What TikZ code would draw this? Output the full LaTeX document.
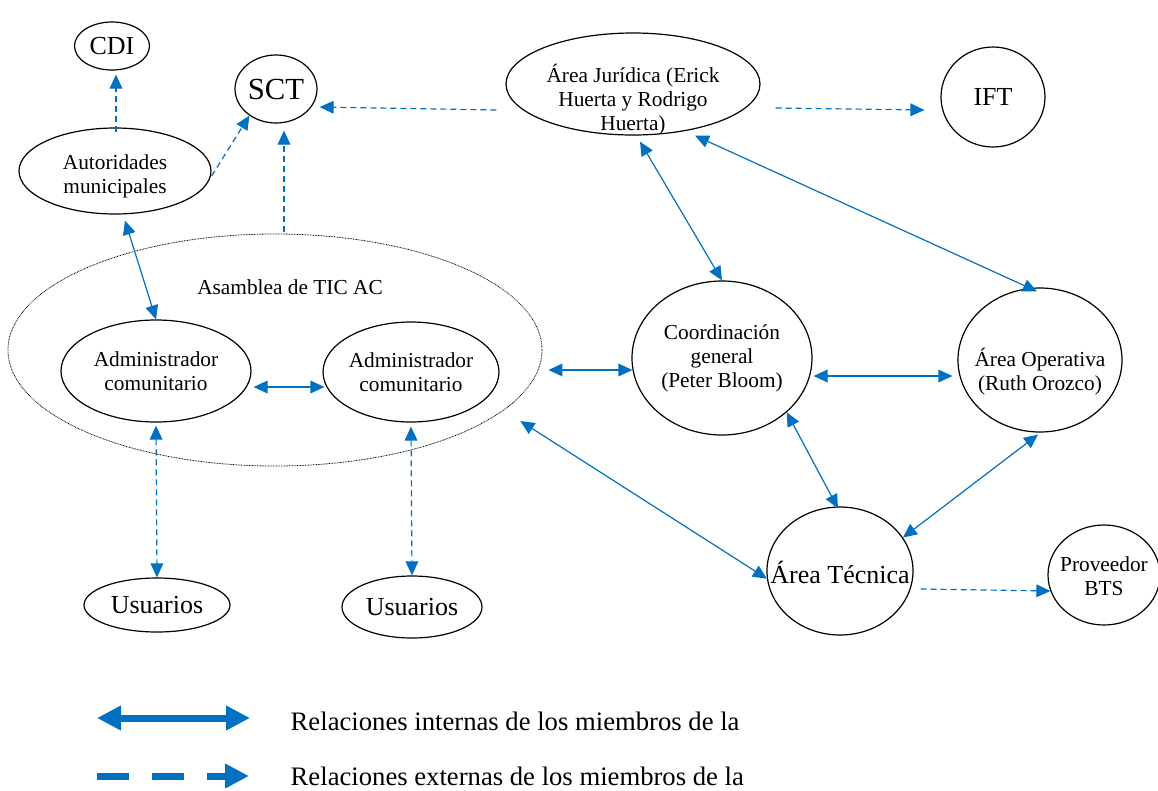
\documentclass[tikz,border=0pt]{standalone}
\usepackage{fontspec}
\setmainfont{Liberation Serif}
\newfontfamily\timesfont{Liberation Serif}
\definecolor{linkblue}{RGB}{0,112,192}
\usetikzlibrary{shapes.geometric,arrows.meta,positioning}

\begin{document}
\begin{tikzpicture}[x=0.75pt,y=-0.75pt,
    ltip/.tip={Triangle[length=10.5pt,width=9.5pt]},
    bigtip/.tip={Triangle[length=18pt,width=17.5pt]},
    org/.style 2 args={ellipse, draw=black, line width=0.9pt, inner sep=0pt,
      minimum width=#1*0.75pt, minimum height=#2*0.75pt, align=center,
      font=\timesfont\fontsize{16}{18}\selectfont},
    bigtext/.style={font=\timesfont\fontsize{19.5}{22}\selectfont},
    intrel/.style={linkblue, line width=0.9pt, ltip-ltip},
    extrel/.style={linkblue, line width=0.9pt, dash pattern=on 4.5pt off 3pt, -ltip}]
    \useasboundingbox (0,0) rectangle (1158,790);
    % Assembly and its members
    \node[ellipse, draw, line width=0.6pt, dash pattern=on 0.6pt off 0.6pt,
      minimum width=534*0.75pt, minimum height=232*0.75pt] (asm) at (275,350) {};
    \node[font=\timesfont\fontsize{16}{18}\selectfont] (asmlbl) at (290,287) {Asamblea de TIC AC};
    \node[org={190}{102}] (adm1) at (156,371) {Administrador\\comunitario};
    \node[org={168}{100}] (adm2) at (411,372) {Administrador\\comunitario};
    \node[org={146}{54}, bigtext] (usr1) at (157,605) {Usuarios};
    \node[org={140}{62}, bigtext] (usr2) at (412,607) {Usuarios};
    % External bodies
    \node[org={75}{48}, bigtext] (cdi) at (112,46) {CDI};
    \node[org={82}{68}, font=\timesfont\fontsize{23}{26}\selectfont] (sct) at (276,89) {SCT};
    \node[org={192}{86}, label={[font=\timesfont\fontsize{16}{18}\selectfont, align=center,
      yshift=-4pt]center:{Autoridades\\municipales}}] (aut) at (115,171) {};
    \node[org={104}{100}, bigtext] (ift) at (993,97) {IFT};
    \node[org={112}{100}, label={[font=\timesfont\fontsize{16}{18}\selectfont, align=center,
      yshift=-1pt]center:{Proveedor\\BTS}}] (bts) at (1104,575) {};
    % Organisation areas
    \node[org={254}{102}, label={[font=\timesfont\fontsize{16}{18}\selectfont, align=center,
      yshift=-12pt]center:{Área Jurídica (Erick\\Huerta y Rodrigo\\Huerta)}}] (jur) at (633,84) {};
    \node[org={180}{154}] (coord) at (722,358) {Coordinación\\general\\(Peter Bloom)};
    \node[org={164}{144}, label={[font=\timesfont\fontsize{16}{18}\selectfont, align=center,
      yshift=-9pt]center:{Área Operativa\\(Ruth Orozco)}}] (oper) at (1040,360) {};
    \node[org={146}{128}, label={[font=\timesfont\fontsize{19.5}{22}\selectfont,
      yshift=-1pt]center:{Área Técnica}}] (tec) at (840,571) {};
    % External relations
    \draw[extrel] ([shift={(1,5)}]aut.north) -- ([shift={(4,4)}]cdi.south);
    \draw[extrel] ([shift={(0,5)}]aut.east) -- (sct.225);
    \draw[extrel] ([shift={(9,-2)}]asm.north) -- ([shift={(8,7)}]sct.south);
    \draw[extrel] ([shift={(-9,26)}]jur.west) -- ([shift={(2,18)}]sct.east);
    \draw[extrel] ([shift={(15,24)}]jur.east) -- ([shift={(-16,13)}]ift.west);
    \draw[extrel] ([shift={(7,18)}]tec.east) -- ([shift={(3,16)}]bts.west);
    \draw[extrel, ltip-ltip] ([shift={(0,3)}]adm1.south) -- (usr1.north);
    \draw[extrel, ltip-ltip] ([shift={(0,4)}]adm2.south) -- (usr2.north);
    % Internal relations
    \draw[intrel] ([shift={(10,6)}]aut.south) -- (adm1.north);
    \draw[intrel] ([shift={(2,16)}]adm1.east) -- ([shift={(2,15)}]adm2.west);
    \draw[intrel] ([shift={(7,6)}]jur.south) -- (coord.north);
    \draw[intrel] ([shift={(62,0)}]jur.south) -- ([shift={(-3,4)}]oper.north);
    \draw[intrel] ([shift={(6,20)}]asm.east) -- ([shift={(1,12)}]coord.west);
    \draw[intrel] ([shift={(1,18)}]coord.east) -- ([shift={(-5,16)}]oper.west);
    \draw[intrel] (coord.-40) -- ([shift={(-2,2)}]tec.north);
    \draw[intrel] ([shift={(-2,2)}]oper.south) -- (tec.28);
    \draw[intrel] ([shift={(-22,71)}]asm.east) -- (tec.186);
    % Legend
    \coordinate (lin1) at (97,718);
    \coordinate (lin2) at (250,718);
    \coordinate (lex1) at (97,776);
    \coordinate (lex2) at (249,776);
    \draw[linkblue, line width=5.25pt, bigtip-bigtip] (lin1) -- (lin2);
    \draw[linkblue, line width=5.25pt, dash pattern=on 24pt off 17.25pt, -bigtip] (lex1) -- (lex2);
    \node[anchor=west, font=\timesfont\fontsize{20}{24}\selectfont] (linlbl) at (286,721)
      {Relaciones internas de los miembros de la};
    \node[anchor=west, font=\timesfont\fontsize{20}{24}\selectfont] (lexlbl) at (286,776)
      {Relaciones externas de los miembros de la};
\end{tikzpicture}
\end{document}
